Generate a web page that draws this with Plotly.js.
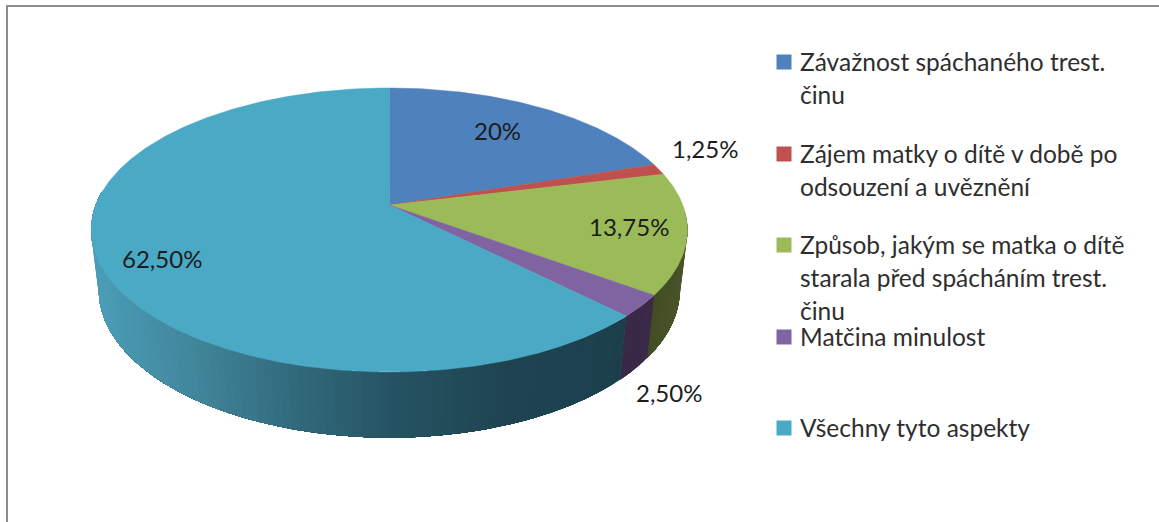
<!DOCTYPE html>
<html><head><meta charset="utf-8">
<script src="https://cdn.plot.ly/plotly-3.0.1.min.js"></script>
<style>html,body{margin:0;padding:0;background:#fff}#c{width:1159px;height:522px}</style>
</head><body><div id="c"></div>
<script>
const categories = ['Závažnost spáchaného trest.<br>činu','Zájem matky o dítě v době po<br>odsouzení a uvěznění','Způsob, jakým se matka o dítě<br>starala před spácháním trest.<br>činu','Matčina minulost','Všechny tyto aspekty'];
const values = [20,1.25,13.75,2.5,62.5];
const valueLabels = ['20%','1,25%','13,75%','2,50%','62,50%'];
const topColors = ['#4f81bd','#c0504d','#9bbb59','#8064a2','#4aa9c5'];

// Perspective projection of the pie disc onto the picture plane
const CX=389.3, K=0.176;
const topDisc={y0:205,a:293.5,b:137.6};
const botDisc={y0:264,a:286,b:143};
function proj(d,deg){const t=deg*Math.PI/180,X=Math.sin(t),Y=Math.cos(t),w=1+K*Y;return [CX+d.a*X/w,d.y0-d.b*Y/w];}
function lerpHex(stops,x){
  if(x<=stops[0][0])return stops[0][1];
  for(let i=1;i<stops.length;i++){if(x<=stops[i][0]){
    const [x0,c0]=stops[i-1],[x1,c1]=stops[i],f=(x-x0)/(x1-x0);
    const p=c=>[1,3,5].map(j=>parseInt(c.substr(j,2),16));
    const a=p(c0),b=p(c1);return 'rgb('+a.map((v,j)=>Math.round(v+(b[j]-v)*f)).join(',')+')';}}
  return stops[stops.length-1][1];
}
const wallShade={
  2:[[640,'#3f4a22'],[690,'#4b552b']],
  3:[[600,'#38284a'],[660,'#3a2a46']],
  4:[[95,'#4b9db6'],[200,'#408499'],[300,'#30687a'],[400,'#255261'],[500,'#1f4552'],[625,'#1c3f4c']]
};
const traces=[];
const total=values.reduce((a,b)=>a+b,0);
const angles=[0];values.forEach(v=>angles.push(angles[angles.length-1]+v/total*360));

// side wall: each strip runs on to the end of its slice and the next strip paints over it, so no seams show
[2,3,4].forEach(i=>{
  const from=Math.max(angles[i],92), to=Math.min(angles[i+1],276), step=1.5;
  for(let a=from;a<to;a+=step){
    const xs=[],ys=[],xb=[],yb=[];
    for(let e=a;;e=Math.min(e+step,to)){
      const q=proj(topDisc,e),r=proj(botDisc,e);
      xs.push(q[0]);ys.push(q[1]);xb.unshift(r[0]);yb.unshift(r[1]);
      if(e>=to)break;
    }
    const col=lerpHex(wallShade[i],proj(topDisc,a+step/2)[0]);
    traces.push({type:'scatter',mode:'none',x:[...xs,...xb,xs[0]],y:[...ys,...yb,ys[0]],
      fill:'toself',fillcolor:col,hoverinfo:'skip',showlegend:false});
  }
});
// top face
values.forEach((v,i)=>{
  const xs=[CX],ys=[topDisc.y0];
  for(let a=angles[i];a<angles[i+1]+1e-6;a+=0.5){const q=proj(topDisc,a);xs.push(q[0]);ys.push(q[1]);}
  const q=proj(topDisc,angles[i+1]);xs.push(q[0],CX);ys.push(q[1],topDisc.y0);
  traces.push({type:'scatter',mode:'lines',x:xs,y:ys,fill:'toself',fillcolor:topColors[i],
    line:{color:topColors[i],width:0.5},name:categories[i],text:valueLabels[i],hoverinfo:'text',showlegend:false});
});
// legend swatches
const legendY=[62,154,245,337,428];
traces.push({type:'scatter',mode:'markers',x:categories.map(()=>784),y:legendY,
  marker:{symbol:'square',size:15,color:topColors,line:{width:0}},hoverinfo:'skip',showlegend:false});

const legendFont={family:'Lato, sans-serif',size:24.5,color:'#2e2e2e'};
const labelFont={family:'Lato, sans-serif',size:24,color:'#1c1c1c'};
const annotations=[];
categories.forEach((c,i)=>c.split('<br>').forEach((line,j)=>annotations.push({xref:'x',yref:'y',x:798.5,y:legendY[i]-1+j*33,text:line,showarrow:false,
  xanchor:'left',yanchor:'middle',align:'left',font:legendFont,borderpad:0})));
const labelPos=[[497,130],[705,148],[629,226],[669,392],[162,258]];
valueLabels.forEach((t,i)=>annotations.push({xref:'x',yref:'y',x:labelPos[i][0],y:labelPos[i][1],text:t,showarrow:false,
  xanchor:'center',yanchor:'middle',font:labelFont}));

const layout={width:1159,height:522,margin:{l:0,r:0,t:0,b:0,pad:0},paper_bgcolor:'#fff',plot_bgcolor:'#fff',showlegend:false,
  xaxis:{range:[0,1159],visible:false,fixedrange:true},
  yaxis:{range:[522,0],visible:false,fixedrange:true},
  annotations,
  shapes:[
    {type:'line',xref:'x',yref:'y',x0:6,x1:1159,y0:6,y1:6,line:{color:'#8c8c8c',width:2}},
    {type:'line',xref:'x',yref:'y',x0:7,x1:7,y0:5,y1:522,line:{color:'#8c8c8c',width:2}}
  ]};
Plotly.newPlot('c',traces,layout,{displayModeBar:false});
</script></body></html>
